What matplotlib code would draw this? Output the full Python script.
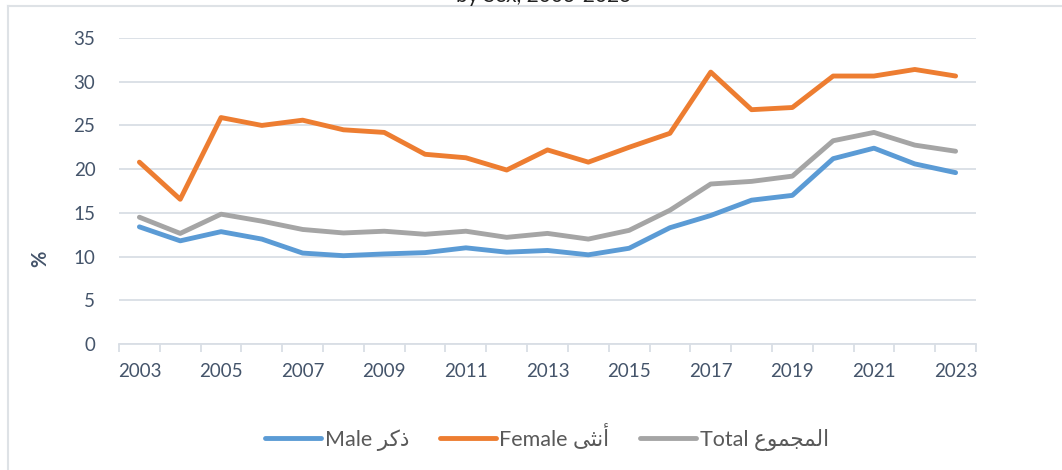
import matplotlib
matplotlib.use("Agg")
import matplotlib.pyplot as plt
import numpy as np
from matplotlib.lines import Line2D

plt.rcParams["font.family"] = ["Lato", "DejaVu Sans"]

years = list(range(2003, 2024))
male = [13.4, 11.8, 12.85, 12.0, 10.4, 10.1, 10.3, 10.45, 11.0, 10.5, 10.7,
        10.2, 10.95, 13.3, 14.7, 16.45, 17.0, 21.2, 22.4, 20.6, 19.6]
female = [20.8, 16.55, 25.9, 25.0, 25.6, 24.5, 24.2, 21.7, 21.3, 19.9, 22.2,
          20.8, 22.5, 24.1, 31.1, 26.8, 27.05, 30.65, 30.65, 31.4, 30.65]
total = [14.5, 12.65, 14.85, 14.05, 13.1, 12.7, 12.9, 12.55, 12.9, 12.2, 12.65,
         12.0, 13.0, 15.3, 18.3, 18.6, 19.2, 23.25, 24.2, 22.75, 22.05]

# Arabic words as presentation forms in visual order
ar_male = "\uFEAE\uFEDB\uFEAB"
ar_female = "\uFEF0\uFE9C\uFEE7\uFE83"
ar_total = "\uFEC9\uFEEE\uFEE4\uFEA0\uFEE4\uFEDF\uFE8D"
labels = ["Male " + ar_male, "Female " + ar_female, "Total " + ar_total]
colors = ["#5B9BD5", "#ED7D31", "#A5A5A5"]

text_col = "#44546A"
grid_col = "#D9DEE5"

fig = plt.figure(figsize=(10.62, 4.70), dpi=100)
ax = fig.add_axes([119 / 1062, 1 - 344 / 470, 857 / 1062, 306 / 470])

x = np.arange(len(years))
for vals, col, lab in zip([male, female, total], colors, labels):
    ax.plot(x, vals, color=col, lw=3.5, label=lab,
            solid_capstyle="round", solid_joinstyle="round")

ax.set_xlim(-0.5, len(years) - 0.5)
ax.set_ylim(0, 35)
ax.set_yticks(range(0, 36, 5))
ax.grid(axis="y", color=grid_col, lw=1.3)
ax.set_axisbelow(True)

ax.set_xticks(x[::2])
ax.set_xticklabels([str(y) for y in years[::2]])
ax.set_xticks(np.arange(-0.5, len(years), 1), minor=True)
ax.tick_params(axis="x", which="major", length=0, pad=14, labelsize=13.5,
               labelcolor=text_col)
ax.tick_params(axis="x", which="minor", length=6, width=1.3, color=grid_col)
ax.tick_params(axis="y", length=0, pad=17, labelsize=13.5, labelcolor=text_col)

for s in ["top", "right", "left"]:
    ax.spines[s].set_visible(False)
ax.spines["bottom"].set_color(grid_col)
ax.spines["bottom"].set_linewidth(1.3)

ax.set_ylabel("%", fontsize=14.5, color=text_col, fontweight="bold")
ax.yaxis.set_label_coords(-0.08, 0.28)

leg = fig.legend(loc="center", bbox_to_anchor=(547 / 1062, 0.07), ncol=3,
                 frameon=False, fontsize=15.5, handlelength=2.6,
                 handletextpad=0.18, columnspacing=1.4)
for t in leg.get_texts():
    t.set_color("#595959")

# outer chart frame (partially visible)
fig.add_artist(Line2D([8 / 1062, 8 / 1062], [0, 1 - 6 / 470],
                      transform=fig.transFigure, color="#DEE2E6", lw=1.5))
fig.add_artist(Line2D([8 / 1062, 1], [1 - 6 / 470, 1 - 6 / 470],
                      transform=fig.transFigure, color="#DEE2E6", lw=1.5))

# title, cut off by the top edge as in the source image
fig.text(544 / 1062, 1 - 1.5 / 470, "by Sex, 2003-2023", ha="center",
         va="baseline", fontsize=15, color="#222222")

fig.savefig("out.png", dpi=100)
